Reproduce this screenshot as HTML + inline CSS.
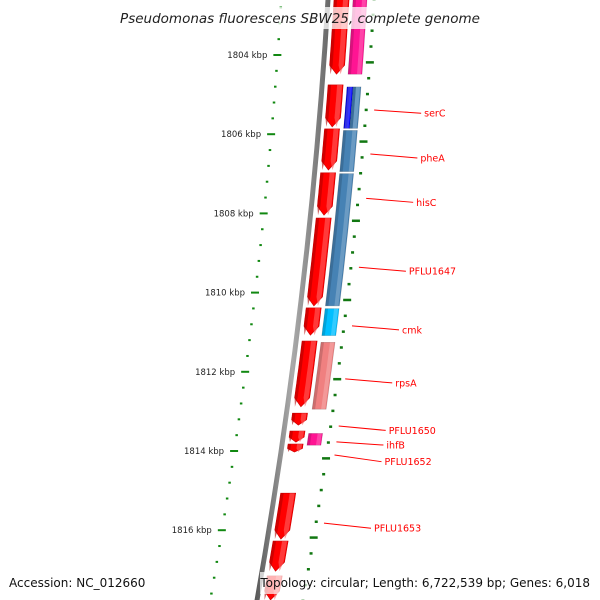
<!DOCTYPE html>
<html><head><meta charset="utf-8"><style>
html,body{margin:0;padding:0;background:#fff;overflow:hidden;}
svg{display:block;font-family:"DejaVu Sans","Liberation Sans",sans-serif;}
</style></head><body>
<svg id="map" width="600" height="600" viewBox="0 0 600 600">
<defs>
<linearGradient id="gBack" x1="0" x2="1"><stop offset="0" stop-color="#555"/><stop offset="0.5" stop-color="#aaa"/><stop offset="1" stop-color="#666"/></linearGradient>
</defs>
<g id="ticks"></g><g id="backbone"></g><g id="genes"></g><g id="labels"></g>
<rect x="118" y="7" width="364" height="22" fill="#fff" fill-opacity="0.75"/>
<text x="300" y="23" text-anchor="middle" font-size="13.5" font-style="italic" fill="#222">Pseudomonas fluorescens SBW25, complete genome</text>
<text x="9" y="587" font-size="12" fill="#111">Accession: NC_012660</text>
<rect x="260" y="572" width="334" height="22" fill="#fff" fill-opacity="0.7"/>
<text x="590" y="587" text-anchor="end" font-size="12" fill="#111">Topology: circular; Length: 6,722,539 bp; Genes: 6,018</text>
</svg>
<script>
const leftStart=[1802.36,1804.73,1805.84,1806.95,1808.09,1810.36,1811.20,1813.02,1813.47,1813.80,1815.04,1816.25,1817.13];
const leftEnd=[1804.51,1805.84,1806.93,1808.07,1810.36,1811.10,1812.91,1813.37,1813.80,1814.05,1816.25,1817.06,1818.02];
const rightStart=[1802.36,1804.78,1804.78,1805.88,1806.97,1810.38,1811.23,1813.53];
const rightEnd=[1804.51,1805.88,1805.88,1806.97,1810.36,1811.11,1812.97,1813.88];
const rightColor=["#ff1493","#0000ff","#4682b4","#4682b4","#4682b4","#00bfff","#f08080","#ff1493"];
const rightHalf=["full","inner","outer","full","full","full","full","full"];
const majorTicks=[1804,1806,1808,1810,1812,1814,1816];
const tickLabels=["1804 kbp","1806 kbp","1808 kbp","1810 kbp","1812 kbp","1814 kbp","1816 kbp"];
const labelNames=["serC","pheA","hisC","PFLU1647","cmk","rpsA","PFLU1650","ihfB","PFLU1652","PFLU1653"];
const labelKbp=[1805.39,1806.50,1807.62,1809.36,1810.84,1812.18,1813.37,1813.77,1814.10,1815.82];
const labelTextKbp=[1805.47,1806.60,1807.72,1809.46,1810.94,1812.28,1813.48,1813.85,1814.27,1815.95];

const NS="http://www.w3.org/2000/svg";
function Y(k){return 55+(k-1804)*39.6;}
function BX(y){return 328-0.0608*y-0.0000958*y*y;}
function mk(t,a,parent){const e=document.createElementNS(NS,t);for(const k in a)e.setAttribute(k,a[k]);parent.appendChild(e);return e;}
function band(y1,y2,o1,o2,arrow){
  const pts=[];const n=12;const tip=arrow?Math.min(9,(y2-y1)*0.45):0;
  const yb=y2-tip;
  for(let i=0;i<=n;i++){const y=y1+(yb-y1)*i/n;pts.push([BX(y)+o1,y]);}
  if(arrow){pts.push([BX(y2)+(o1+o2)/2,y2]);}
  for(let i=n;i>=0;i--){const y=y1+(yb-y1)*i/n;pts.push([BX(y)+o2,y]);}
  return pts.map(p=>p[0].toFixed(1)+","+p[1].toFixed(1)).join(" ");
}
const tg=document.getElementById('ticks');
for(let k=1802.4;k<=1818.0;k+=0.4){
  const y=Y(k);const major=Math.abs(k-Math.round(k/2)*2)<0.01;
  const e=mk('rect',{x:BX(y)-47-(major?4:1),y:y-1,width:major?8:2.5,height:2,fill:'#118811'},tg);
  
  
}
for(let i=0;i<majorTicks.length;i++){
  const y=Y(majorTicks[i]);
  const t=mk('text',{x:BX(y)-57,y:y+3,'text-anchor':'end','font-size':'8.5',fill:'#222'},tg);
  t.textContent=tickLabels[i];
  
  
}
for(let k=1802.58;k<=1818.0;k+=0.4){
  const y=Y(k);const major=Math.abs((k-0.18)-Math.round((k-0.18)/2)*2)<0.01;
  const e=mk('rect',{x:BX(y)+46-(major?4:1.5),y:y-1,width:major?8:3,height:2.5,fill:'#117711'},tg);
  
  
}
const bg=document.getElementById('backbone');
const bb=mk('polygon',{points:band(-5,605,-2.5,2.5,false),fill:'url(#gBack)'},bg);


const gg=document.getElementById('genes');
for(let i=0;i<leftStart.length;i++){
  const y1=Y(leftStart[i])+1,y2=Math.min(Y(leftEnd[i])-1,600);
  const p=mk('polygon',{points:band(y1,y2,6,21,true),fill:'#ff0000',stroke:'#cc0000','stroke-width':'0.6'},gg);
  
  
  const d=mk('polygon',{points:band(y1,y2,6,9,true),fill:'#b00000','fill-opacity':'0.6'},gg);
  
  
  const h=mk('polygon',{points:band(y1,y2,15,20,true),fill:'#ff6060','fill-opacity':'0.6'},gg);
  
  
}
for(let i=0;i<rightStart.length;i++){
  const y1=Y(rightStart[i])+1,y2=Y(rightEnd[i])-1;
  let o1=25,o2=39;
  if(rightHalf[i]==='inner')o2=31;
  if(rightHalf[i]==='outer')o1=31;
  const p=mk('polygon',{points:band(y1,y2,o1,o2,false),fill:rightColor[i],stroke:'rgba(0,0,0,0.2)','stroke-width':'0.6'},gg);
  
  
  const d=mk('polygon',{points:band(y1,y2,o1,o1+3,false),fill:'#000','fill-opacity':'0.15'},gg);
  
  
  const h=mk('polygon',{points:band(y1,y2,o2-5,o2-1,false),fill:'#fff','fill-opacity':'0.2'},gg);
  
  
}
const lg=document.getElementById('labels');
for(let i=0;i<labelNames.length;i++){
  const y0=Y(labelKbp[i]),yt=Y(labelTextKbp[i]);
  const x0=BX(y0)+54;
  const l=mk('line',{x1:x0,y1:y0,x2:x0+47,y2:yt,stroke:'#ff0000','stroke-width':'1'},lg);
  
  
  const t=mk('text',{x:x0+50,y:yt+3.5,'font-size':'9.5',fill:'#ff0000'},lg);
  t.textContent=labelNames[i];
  
  
}
</script>
</body></html>
